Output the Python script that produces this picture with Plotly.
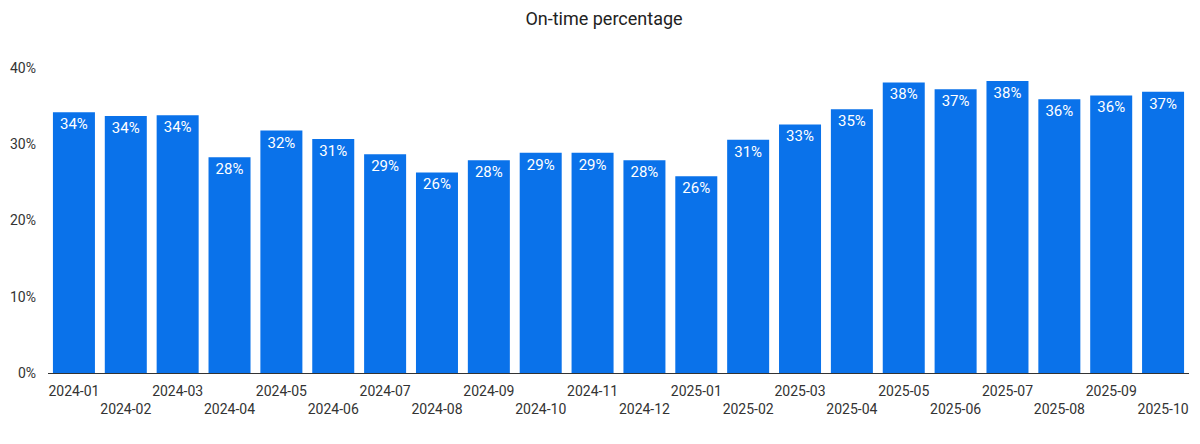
import plotly.graph_objs as go

# monthly on-time share (percent)
months = [
    '2024-01', '2024-02', '2024-03', '2024-04', '2024-05', '2024-06',
    '2024-07', '2024-08', '2024-09', '2024-10', '2024-11', '2024-12',
    '2025-01', '2025-02', '2025-03', '2025-04', '2025-05', '2025-06',
    '2025-07', '2025-08', '2025-09', '2025-10',
]
on_time_pct = [
    34.2, 33.7, 33.8, 28.3, 31.8, 30.7,
    28.7, 26.3, 27.9, 28.9, 28.9, 27.9,
    25.8, 30.6, 32.6, 34.6, 38.1, 37.2,
    38.3, 35.9, 36.4, 36.9,
]
y_ticks = [0, 10, 20, 30, 40]

# every other month label drops to a second row, like the original
tick_text = [m if i % 2 == 0 else '<br>' + m for i, m in enumerate(months)]

FONT = 'Roboto'
BLUE = '#0a72ea'
GREY = '#333333'

trace = go.Bar(
    x=months,
    y=on_time_pct,
    marker={'color': BLUE, 'line': {'width': 0}},
    texttemplate='%{y:.0f}%',
    textposition='inside',
    insidetextanchor='end',
    textangle=0,
    textfont={'family': FONT, 'size': 15, 'color': 'white'},
    hoverinfo='x+y',
)

# the page body has an 8px margin, so the figure is 8px smaller each way
layout = go.Layout(
    title={
        'text': 'On-time percentage',
        'x': 0.5, 'xanchor': 'center',
        'y': 0.975, 'yanchor': 'middle',
        'font': {'family': FONT, 'size': 18, 'color': '#222222'},
    },
    width=1192,
    height=436,
    margin={'l': 40, 'r': 11, 't': 60, 'b': 71},
    paper_bgcolor='white',
    plot_bgcolor='white',
    bargap=0.19,
    showlegend=False,
    font={'family': FONT, 'size': 14, 'color': GREY},
    xaxis={
        'type': 'category',
        'tickmode': 'array',
        'tickvals': months,
        'ticktext': tick_text,
        'showgrid': False,
        'showline': True,
        'linecolor': GREY,
        'linewidth': 1,
        'ticks': '',
        'tickangle': 0,
        'ticklabelstandoff': 5,
        'automargin': False,
        'tickfont': {'family': FONT, 'size': 14, 'color': GREY},
    },
    yaxis={
        'range': [0, 40],
        'tickvals': y_ticks,
        'ticktext': ['{}%'.format(v) for v in y_ticks],
        'showgrid': False,
        'zeroline': False,
        'showline': False,
        'ticks': '',
        'ticklabelstandoff': 11,
        'automargin': False,
        'tickfont': {'family': FONT, 'size': 14, 'color': GREY},
    },
)

fig = go.Figure(data=[trace], layout=layout)
fig.write_html('out.html')
